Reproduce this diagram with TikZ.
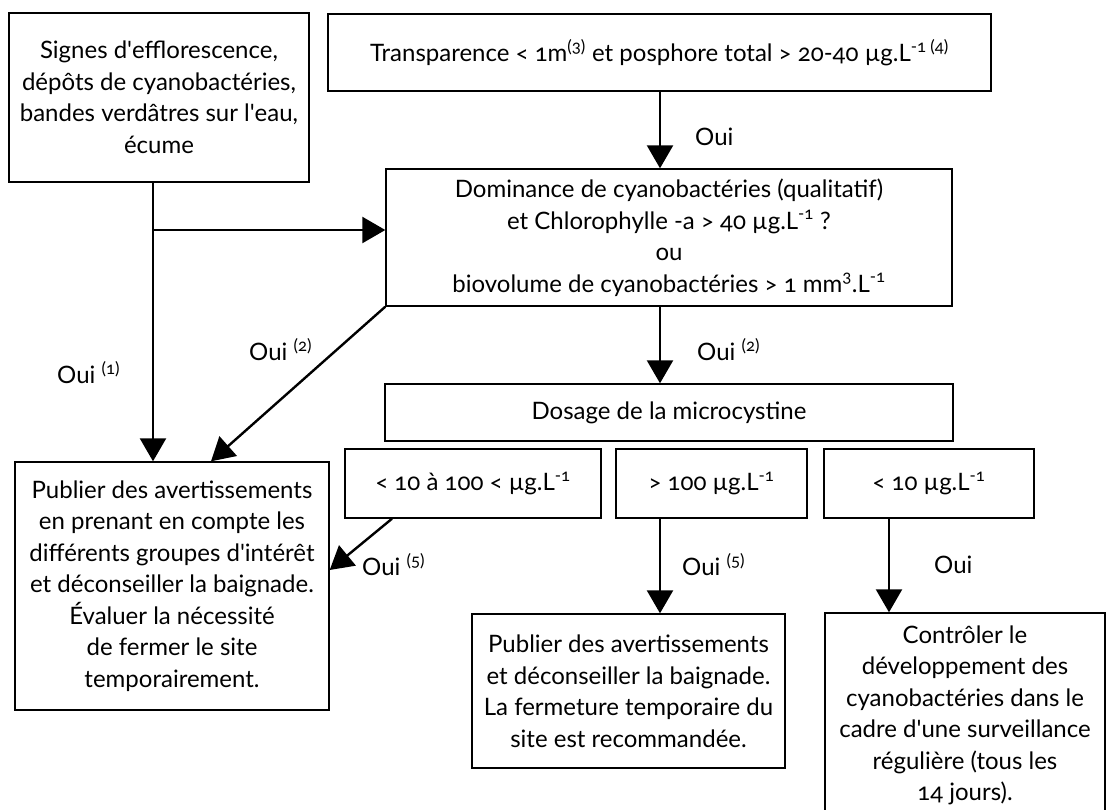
\documentclass[tikz,border=0pt]{standalone}
\usepackage{fontspec}
\setmainfont{Lato}[Numbers=OldStyle]
\usetikzlibrary{arrows.meta}

\begin{document}
\begin{tikzpicture}[x=1pt,y=-1pt,
	box/.style={draw,line width=1.4pt,align=center,inner sep=0pt,font=\fontsize{24}{31.5}\selectfont},
	arr/.style={line width=2.4pt,-{Triangle[length=23pt,width=26pt]}},
	oui/.style={anchor=west,inner sep=0pt,font=\fontsize{24}{31.5}\selectfont}]
	
	\useasboundingbox (0,0) rectangle (1107,809);
	
	% boxes
	\node[box,minimum width=300pt,minimum height=169pt] (signes) at (159,97.5)
		{Signes d\textquotesingle efflorescence,\\dépôts de cyanobactéries,\\bandes verdâtres sur l\textquotesingle eau,\\écume};
	\node[box,minimum width=663pt,minimum height=77pt] (transp) at (659.5,52.5)
		{Transparence < 1m\textsuperscript{(3)} et posphore total > 20-40 µg.L\textsuperscript{-1 (4)}};
	\node[box,minimum width=566pt,minimum height=137pt] (domin) at (669,237.5)
		{Dominance de cyanobactéries (qualitatif)\\et Chlorophylle -a > 40 µg.L\textsuperscript{-1} ?\\ou\\biovolume de cyanobactéries > 1 mm\textsuperscript{3}.L\textsuperscript{-1}};
	\node[box,minimum width=568pt,minimum height=57pt] (dosage) at (669,412.5)
		{Dosage de la microcystine};
	\node[box,minimum width=256pt,minimum height=69pt] (moyen) at (473,483.5)
		{< 10 à 100 < µg.L\textsuperscript{-1}};
	\node[box,minimum width=191pt,minimum height=69pt] (haut) at (711.5,483.5)
		{> 100 µg.L\textsuperscript{-1}};
	\node[box,minimum width=210pt,minimum height=69pt] (bas) at (929,483.5)
		{< 10 µg.L\textsuperscript{-1}};
	\node[box,minimum width=314pt,minimum height=248pt] (publier1) at (172,586)
		{Publier des avertissements\\en prenant en compte les\\différents groupes d\textquotesingle intérêt\\et déconseiller la baignade.\\Évaluer la nécessité\\de fermer le site\\temporairement.};
	\node[box,minimum width=313pt,minimum height=154pt] (publier2) at (628.5,691)
		{Publier des avertissements\\et déconseiller la baignade.\\La fermeture temporaire du\\site est recommandée.};
	\node[box,minimum width=280pt,minimum height=205pt] (controle) at (965,715.5)
		{Contrôler le\\développement des\\cyanobactéries dans le\\cadre d\textquotesingle une surveillance\\régulière (tous les\\14 jours).};
	
	% columns of the arrows
	\coordinate (lx) at (153,0);
	\coordinate (dx) at (211,0);
	\coordinate (mx) at (392,0);
	\coordinate (cx) at (660,0);
	\coordinate (rx) at (889,0);
	\coordinate (jn) at (153,230);
	\coordinate (ey) at (0,570);
	
	\draw[arr] (signes.south -| lx) -- (publier1.north -| lx);
	\draw[arr] (jn) -- (domin.west |- jn);
	\draw[arr] (transp.south -| cx) -- (domin.north -| cx);
	\draw[arr] (domin.south west) -- (publier1.north -| dx);
	\draw[arr] (domin.south -| cx) -- (dosage.north -| cx);
	\draw[arr] (moyen.south -| mx) -- (publier1.east |- ey);
	\draw[arr] (haut.south -| cx) -- (publier2.north -| cx);
	\draw[arr] (bas.south -| rx) -- (controle.north -| rx);
	
	% labels
	\node[oui] (o1) at (695,137) {Oui};
	\node[oui] (o2) at (57,373) {Oui~\textsuperscript{(1)}};
	\node[oui] (o3) at (249,350) {Oui~\textsuperscript{(2)}};
	\node[oui] (o4) at (697,350) {Oui~\textsuperscript{(2)}};
	\node[oui] (o5) at (362,565) {Oui~\textsuperscript{(5)}};
	\node[oui] (o6) at (682,565) {Oui~\textsuperscript{(5)}};
	\node[oui] (o7) at (934,565) {Oui};
	
\end{tikzpicture}
\end{document}
